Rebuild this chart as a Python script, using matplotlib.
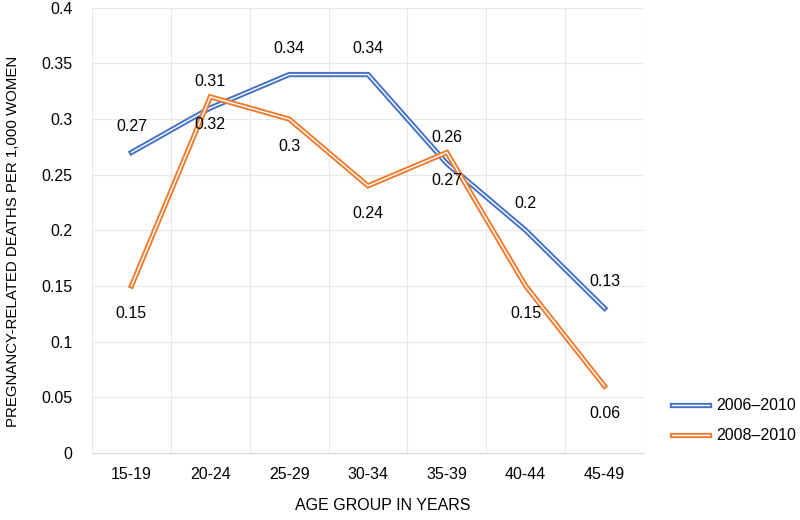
import matplotlib.pyplot as plt
import matplotlib.patheffects as pe

# 数据
age_groups = ["15-19", "20-24", "25-29", "30-34", "35-39", "40-44", "45-49"]
rate_2006_2010 = [0.27, 0.31, 0.34, 0.34, 0.26, 0.20, 0.13]
rate_2008_2010 = [0.15, 0.32, 0.30, 0.24, 0.27, 0.15, 0.06]
series_names = ["2006\u20132010", "2008\u20132010"]
yticks = [0, 0.05, 0.1, 0.15, 0.2, 0.25, 0.3, 0.35, 0.4]

plt.rcParams['font.family'] = ['Liberation Sans', 'DejaVu Sans']
fs = 11.5

fig = plt.figure(figsize=(8, 5.2), dpi=100)
ax = fig.add_axes([0.115, 0.129, 0.69, 0.856])

x = list(range(len(age_groups)))
colors = ["#4472C4", "#ED7D31"]
label_off = [19, -20]  # 蓝色标签在上，橙色标签在下
for vals, name, c, off in zip([rate_2006_2010, rate_2008_2010], series_names, colors, label_off):
    ax.plot(x, vals, color="white", lw=1.0, label=name, solid_joinstyle="miter",
            path_effects=[pe.Stroke(linewidth=3.8, foreground=c, joinstyle="miter"), pe.Normal()])
    for xi, v in zip(x, vals):
        ax.annotate("%g" % v, (xi, v), xytext=(0, off), textcoords="offset points",
                    ha="center", va="center", fontsize=fs, color="black")

ax.set_xlim(-0.5, len(age_groups) - 0.5)
ax.set_ylim(0, 0.4)
ax.set_yticks(yticks)
ax.set_yticklabels(["%g" % t for t in yticks])
ax.set_xticks(x)
ax.set_xticklabels(age_groups)
# 网格线在类别之间
ax.grid(False)
for t in yticks[1:]:
    ax.axhline(t, color="#E8E8E8", lw=0.8, zorder=0)
for i in range(-1, len(age_groups)):
    ax.axvline(i + 0.5, color="#E8E8E8", lw=0.8, zorder=0)
for s in ["top", "right", "left"]:
    ax.spines[s].set_visible(False)
ax.spines["bottom"].set_color("#D9D9D9")
ax.tick_params(axis="both", which="both", length=0, labelsize=fs, labelcolor="black")
ax.tick_params(axis="y", pad=14)
ax.tick_params(axis="x", pad=10)

fig.text(0.479, 0.028, "AGE GROUP IN YEARS", ha="center", va="center", fontsize=fs)
fig.text(0.016, 0.535, "PREGNANCY-RELATED DEATHS PER 1,000 WOMEN", rotation=90,
         ha="center", va="center", fontsize=10.8)

leg = ax.legend(loc="center left", bbox_to_anchor=(0.822, 0.191), bbox_transform=fig.transFigure,
                frameon=False, fontsize=fs, handlelength=2.3, handletextpad=0.5, labelspacing=0.95)

fig.savefig("out.png", dpi=100)
